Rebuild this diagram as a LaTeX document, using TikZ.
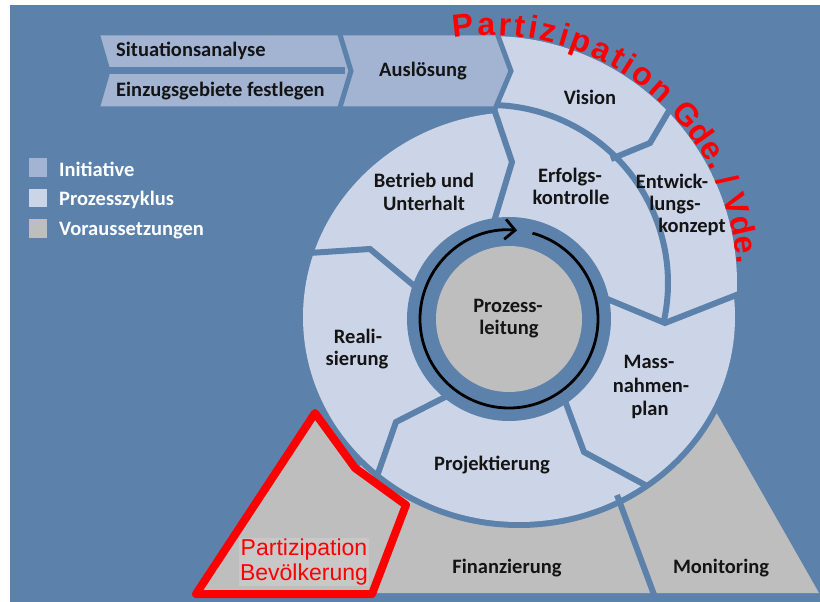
\documentclass[tikz,border=0pt]{standalone}
\usepackage{fontspec}
\setmainfont{Carlito}
\newfontfamily\arialf{Liberation Sans}
\usetikzlibrary{arrows.meta,decorations.text,calc}
\definecolor{bgblue}{RGB}{92,130,172}
\definecolor{cyc}{RGB}{204,213,232}
\definecolor{ini}{RGB}{163,180,210}
\definecolor{vor}{RGB}{190,190,191}
\definecolor{boxgray}{RGB}{200,200,200}
\definecolor{ink}{RGB}{20,20,20}
\begin{document}
\begin{tikzpicture}[x=1pt,y=-1pt,
 lab/.style={font=\fontsize{20.5}{22}\selectfont\bfseries, text=ink, inner sep=0pt, anchor=base},
 leg/.style={font=\fontsize{20.5}{22}\selectfont\bfseries, text=white, inner sep=0pt, anchor=base west},
 sep/.style={draw=bgblue, line width=6pt, line join=miter},
 arctext/.style={decorate, decoration={text along path, text color=red, text align={fit to path}, text={|\arialf\bfseries\fontsize{32}{32}\selectfont|#1}}},
]
\useasboundingbox (0,0) rectangle (820,602);
\fill[white] (0,0) rectangle (820,602);
\fill[bgblue] (10,5) rectangle (820,602);
% Voraussetzungen (gray base)
\fill[vor] (196,593) -- (315,413) -- (355,468) -- (509,400) -- (712,405) -- (819,593) -- cycle;
% disc with blue rim
\fill[bgblue] (519,317) ellipse[x radius=222, y radius=211];
\fill[cyc] (519,317) ellipse[x radius=216, y radius=205];
\fill[cyc] (490,283) -- ($(490,283)+(-88.4:247)$) arc[start angle=-88.4,end angle=2.8,radius=247] -- cycle;
% separators in the cycle
\draw[sep] (492,103) -- (512,162) -- (493,225);
\draw[sep] ($(490,283)+(-92:178)$) arc[start angle=-92,end angle=13,radius=178];
\draw[sep] (611,159) -- (650,143) -- (673,104);
\draw[sep] (600,296) -- (665,323) -- (744,292);
\draw[sep] (561,390) -- (584,452) -- (647,486);
\draw[sep] (455,392) -- (396,422) -- (375,482);
\draw[sep] (294,254) -- (370,249) -- (418,289);
% initiative arrows
\filldraw[fill=ini, draw=bgblue, line width=5pt, line join=miter] (97,33) -- (497,33) -- (511,71) -- (495,109) -- (97,109) -- (108,71) -- cycle;
\draw[bgblue, line width=7pt] (90,70.5) -- (345,70.5);
\draw[sep, line width=5pt] (338,28) -- (351,71) -- (338,114);
% centre
\fill[bgblue] (509,319) circle[radius=102];
\fill[vor] (509,319) circle[radius=73];
\draw[line width=2.8pt, -{Straight Barb[length=10pt,width=20pt]}] ($(509,319)+(-74.7:89)$) arc[start angle=-74.7,end angle=275.2,radius=89];
% gray separator
\draw[bgblue, line width=6pt] (617,495) -- (656,600);
% red outline
\draw[red, line width=8pt, line join=round] (196,594) -- (315,413) -- (355,468) -- (406,505) -- (372,594) -- cycle;
\node[fill=boxgray, inner sep=1pt, text=red, align=center, font=\arialf\fontsize{23}{24.5}\selectfont] (pb) at (304,562) {Partizipation\\Bevölkerung};
% arc text
\path[arctext={Partizipation}] ($(490,283)+(-98.5:248)$) arc[start angle=-98.5,end angle=-46,radius=248];
\path[arctext={Gde. / Vde.}] ($(490,283)+(-43.5:248)$) arc[start angle=-43.5,end angle=-4.3,radius=248];
% legend
\fill[ini] (29,158) rectangle (47,177);
\fill[cyc] (29,189) rectangle (47,207);
\fill[vor] (29,219) rectangle (47,238);
\node[leg] (l1) at (59,176) {Initiative};
\node[leg] (l2) at (59,205) {Prozesszyklus};
\node[leg] (l3) at (59,235) {Voraussetzungen};
% labels
\node[lab, anchor=base west] (sa) at (116,57) {Situationsanalyse};
\node[lab, anchor=base west] (eg) at (116,96.5) {Einzugsgebiete festlegen};
\node[lab] (au) at (423,77) {Auslösung};
\node[lab] (vi) at (590,105) {Vision};
\node[lab] (ek1) at (672,188) {Entwick-};
\node[lab] (ek2) at (675,210) {lungs-};
\node[lab] (ek3) at (692,232) {konzept};
\node[lab] (ef1) at (570,182) {Erfolgs-};
\node[lab] (ef2) at (571,204) {kontrolle};
\node[lab] (bu1) at (424,187) {Betrieb und};
\node[lab] (bu2) at (424,210) {Unterhalt};
\node[lab] (pl1) at (508,312) {Prozess-};
\node[lab] (pl2) at (509,334) {leitung};
\node[lab] (re1) at (358,343) {Reali-};
\node[lab] (re2) at (357,365) {sierung};
\node[lab] (mp1) at (649,368) {Mass-};
\node[lab] (mp2) at (651,392) {nahmen-};
\node[lab] (mp3) at (650,415) {plan};
\node[lab] (pj) at (492,470) {Projektierung};
\node[lab] (fi) at (507,573) {Finanzierung};
\node[lab] (mo) at (721,573) {Monitoring};
\end{tikzpicture}
\end{document}
